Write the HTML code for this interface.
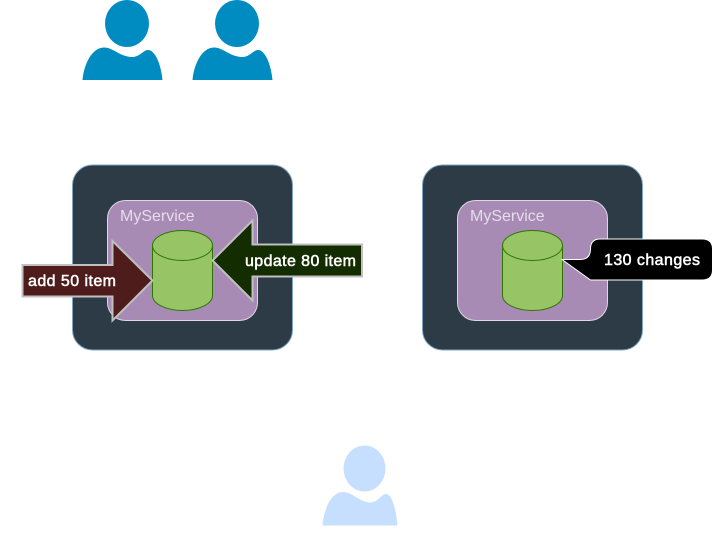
<!DOCTYPE html>
<html>
<head>
<meta charset="utf-8">
<style>
html,body{margin:0;padding:0;background:#fff;width:714px;height:546px;overflow:hidden}
svg{display:block}
text{font-family:"Liberation Sans",sans-serif}
.l{font-size:16px;fill:#fff;stroke:#fff;stroke-width:.5px}
</style>
</head>
<body>
<svg width="714" height="546" viewBox="0 0 714 546" xmlns="http://www.w3.org/2000/svg">
<defs>
<g id="person">
<ellipse cx="127" cy="23.5" rx="22" ry="23.5"/>
<path d="M82.5 80 C84 64 92 47.5 104 47.5 C113 47.5 119 56 131 57 C140 57.5 143 50 148 50 C155 50 161 64 162.5 80 Z"/>
</g>
</defs>
<use href="#person" fill="#008cc1"/>
<use href="#person" x="110" fill="#008cc1"/>
<ellipse cx="364.5" cy="468.5" rx="21" ry="23" fill="#c7dfff"/>
<path d="M322.5 525.5 C324 509 331 492 343 492 C352 492 358 501 369 502.5 C378 503 381 494 386 494 C392 494 396 509 397.5 525.5 Z" fill="#c7dfff"/>

<rect x="72.5" y="165" width="220" height="185" rx="20" fill="#2d3b47" stroke="#7ea6c4" stroke-width="1"/>
<rect x="107.5" y="200.5" width="150" height="120" rx="18" fill="#a78bb5" stroke="#e1d5e7" stroke-width="1"/>
<text x="120" y="221" font-size="16" fill="#e6dcec">MyService</text>
<path d="M152.5 245.5 A30 15 0 0 1 212.5 245.5 L212.5 295.5 A30 15 0 0 1 152.5 295.5 Z" fill="#97c465" stroke="#2d7600" stroke-width="1"/>
<path d="M152.5 245.5 A30 15 0 0 0 212.5 245.5" fill="none" stroke="#2d7600" stroke-width="1"/>

<rect x="422.5" y="165" width="220" height="185" rx="20" fill="#2d3b47" stroke="#7ea6c4" stroke-width="1"/>
<rect x="457.5" y="200.5" width="150" height="120" rx="18" fill="#a78bb5" stroke="#e1d5e7" stroke-width="1"/>
<text x="470" y="221" font-size="16" fill="#e6dcec">MyService</text>
<path d="M502.5 245.5 A30 15 0 0 1 562.5 245.5 L562.5 295.5 A30 15 0 0 1 502.5 295.5 Z" fill="#97c465" stroke="#2d7600" stroke-width="1"/>
<path d="M502.5 245.5 A30 15 0 0 0 562.5 245.5" fill="none" stroke="#2d7600" stroke-width="1"/>

<path d="M22.5 265 L112.5 265 L112.5 241 L152.5 280.5 L112.5 320.5 L112.5 296.5 L22.5 296.5 Z" fill="#4f1c1c" stroke="#c0c0c0" stroke-width="2"/>
<text x="28" y="286" class="l" textLength="88">add 50 item</text>

<path d="M362 244.5 L252.5 244.5 L252.5 220.5 L212.5 260.5 L252.5 300.5 L252.5 276.5 L362 276.5 Z" fill="#142d00" stroke="#c0c0c0" stroke-width="2"/>
<text x="245" y="266" class="l" textLength="111">update 80 item</text>

<path d="M562 259.5 L580 259.5 Q590.5 259.5 590.5 249 Q590.5 239 600 239 L702 239 Q712.5 239 712.5 249 L712.5 270 Q712.5 280 702 280 L590.5 280 Z" fill="#000" stroke="#fff" stroke-width="1"/>
<text x="604" y="265" class="l" textLength="96">130 changes</text>
</svg>
</body>
</html>
